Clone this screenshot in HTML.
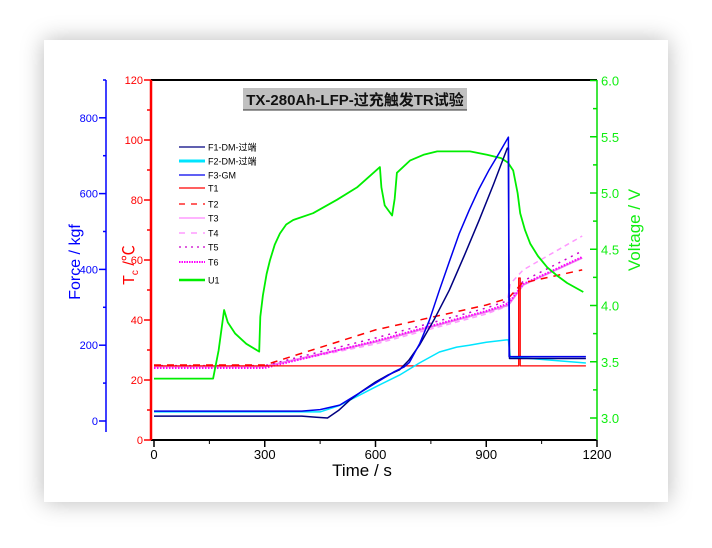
<!DOCTYPE html>
<html><head><meta charset="utf-8"><style>
body{margin:0;background:#fff;width:712px;height:548px;overflow:hidden}
#card{position:absolute;left:44px;top:40px;width:624px;height:462px;background:#fff;box-shadow:0 0 22px rgba(0,0,0,.28)}
svg{position:absolute;left:0;top:0}
text{font-family:"Liberation Sans","Noto Sans CJK SC",sans-serif}
</style></head><body>
<div id="card"></div>
<svg id="chart" width="712" height="548"></svg>
<script>
const tF1=[0,400,440,470,500,530,565,600,635,665,690,719,760,800,840,881,920,957,960,963,1170];
const vF1=[13,13,10,8,28,55,80,103,122,135,160,200,270,345,435,530,625,720,720,165,165];
const tF2=[0,450,500,550,600,665,719,773,820,854,900,955,960,965,1170];
const vF2=[24,24,40,65,90,121,153,182,195,200,208,214,214,169,153];
const tF3=[0,400,450,503,550,600,651,678,692,720,746,773,800,827,854,880,908,935,960,962,1170];
const vF3=[26,26,30,42,70,100,130,143,155,205,266,345,420,495,557,612,663,707,749,170,170];
const tT1=[0,988,988,992,992,1170];
const vT1=[24.7,24.7,54,54,24.7,24.7];
const tT2=[0,300,600,900,960,997,1160];
const vT2=[25,25,36.7,45,47.3,52.3,56.7];
const tT3=[0,300,600,900,960,1000,1160];
const vT3=[24.5,24.5,32.7,42.7,45,51.7,60.7];
const tT4=[0,300,600,900,955,965,1000,1160];
const vT4=[24.5,24.5,32,42,44.5,52,56.7,68];
const tT5=[0,300,600,900,960,1000,1160];
const vT5=[24.8,24.8,34,44,46.5,53,63];
const tT6=[0,300,600,900,960,1000,1160];
const vT6=[24,24,33,43,45.5,52,61];
const tU1=[0,160,175,190,200,220,250,285,288,295,305,314,327,341,358,377,431,496,550,612,616,625,645,652,658,694,730,767,856,902,940,959,973,985,992,1005,1019,1040,1065,1090,1119,1163];
const vU1=[3.35,3.35,3.6,3.96,3.85,3.75,3.66,3.59,3.9,4.09,4.28,4.4,4.54,4.64,4.72,4.76,4.82,4.94,5.05,5.23,5.05,4.89,4.8,4.95,5.18,5.29,5.34,5.37,5.37,5.34,5.31,5.27,5.2,5.0,4.82,4.67,4.55,4.44,4.34,4.27,4.2,4.12];
const tempTicks=[0,20,40,60,80,100,120];
const forceTicks=[0,200,400,600,800];
const voltTicks=["3.0","3.5","4.0","4.5","5.0","5.5","6.0"];
const timeTicks=[0,300,600,900,1200];

const X=t=>154+t*(597-154)/1200;
const YT=v=>440-v*3;
const YF=v=>421-v*0.379;
const YV=v=>418-(v-3)*112.5;
const svg=document.getElementById('chart');
const NS='http://www.w3.org/2000/svg';
function mk(tag,at,txt){const e=document.createElementNS(NS,tag);for(const k in at)e.setAttribute(k,at[k]);if(txt!==undefined)e.textContent=txt;svg.appendChild(e);return e;}
function series(ts,vs,ys,color,w,dash,name){
 const pts=ts.map((t,i)=>X(t).toFixed(1)+','+ys(vs[i]).toFixed(1)).join(' ');
 const e=mk('polyline',{points:pts,fill:'none',stroke:color,'stroke-width':w,'stroke-dasharray':dash||'none','stroke-linejoin':'round'});
 
 
}
mk('line',{x1:151,y1:80,x2:597,y2:80,stroke:'#000','stroke-width':2});
mk('line',{x1:151,y1:440,x2:597,y2:440,stroke:'#000','stroke-width':2});
timeTicks.forEach(t=>{
 mk('line',{x1:X(t),y1:440,x2:X(t),y2:447,stroke:'#000','stroke-width':1.5});
 const e=mk('text',{x:X(t),y:459,'font-size':13,'text-anchor':'middle',fill:'#000'},t);
 
 
});
[150,450,750,1050].forEach(t=>mk('line',{x1:X(t),y1:440,x2:X(t),y2:444,stroke:'#000'}));
let e=mk('text',{x:362,y:476,'font-size':17,'text-anchor':'middle'},'Time / s');
mk('line',{x1:151,y1:80,x2:151,y2:440,stroke:'#f00','stroke-width':2.5});
tempTicks.forEach(v=>{mk('line',{x1:144,y1:YT(v),x2:151,y2:YT(v),stroke:'#f00','stroke-width':1.5});
 const t=mk('text',{x:143,y:YT(v)+4,'font-size':11,'text-anchor':'end',fill:'#f00'},v);});
[10,30,50,70,90,110].forEach(v=>mk('line',{x1:147,y1:YT(v),x2:151,y2:YT(v),stroke:'#f00','stroke-width':1.5}));
e=mk('text',{transform:'translate(134,265) rotate(-90)','font-size':16,'text-anchor':'middle',fill:'#f00'});
e.innerHTML='T<tspan font-size="10" dy="4">c</tspan><tspan dy="-4"> /℃</tspan>';
mk('line',{x1:106,y1:80,x2:106,y2:432,stroke:'#00f','stroke-width':1.5});
mk('line',{x1:103,y1:80,x2:106,y2:80,stroke:'#00f','stroke-width':1.5});
forceTicks.forEach(v=>{mk('line',{x1:99,y1:YF(v),x2:106,y2:YF(v),stroke:'#00f','stroke-width':1.5});
 const t=mk('text',{x:98,y:YF(v)+4,'font-size':11,'text-anchor':'end',fill:'#00f'},v);});
[100,300,500,700].forEach(v=>mk('line',{x1:103,y1:YF(v),x2:106,y2:YF(v),stroke:'#00f','stroke-width':1.5}));
e=mk('text',{transform:'translate(80,262) rotate(-90)','font-size':16,'text-anchor':'middle',fill:'#00f'},'Force / kgf');
mk('line',{x1:597,y1:80,x2:597,y2:440,stroke:'#0d0','stroke-width':1.5});
voltTicks.forEach(v=>{const y=YV(+v);mk('line',{x1:590,y1:y,x2:597,y2:y,stroke:'#0d0','stroke-width':1.5});
 const t=mk('text',{x:601,y:y+5,'font-size':13,fill:'#1e1'},v);});
[3.25,3.75,4.25,4.75,5.25,5.75].forEach(v=>mk('line',{x1:593,y1:YV(v),x2:597,y2:YV(v),stroke:'#0d0','stroke-width':1.5}));
e=mk('text',{transform:'translate(640,230) rotate(-90)','font-size':17,'text-anchor':'middle',fill:'#1e1'},'Voltage / V');
e=mk('rect',{x:243,y:88,width:224,height:22,fill:'#c0c0c0'});
mk('line',{x1:243,y1:110,x2:467,y2:110,stroke:'#333','stroke-width':1});
e=mk('text',{x:355,y:105,'font-size':15,'font-weight':'bold','text-anchor':'middle',fill:'#111'},'TX-280Ah-LFP-过充触发TR试验');
series(tT4,vT4,YT,'#ff99ff',1.5,'5,4','series-t4');
series(tT3,vT3,YT,'#ee82ee',2,null,'series-t3');
series(tT5,vT5,YT,'#cc00cc',1.5,'2,5','series-t5');
series(tT6,vT6,YT,'#ff00ff',2,'1.5,1.5','series-t6');
series(tT2,vT2,YT,'#f00',1.5,'7,6','series-t2');
series(tT1,vT1,YT,'#f00',1.3,null,'series-t1');
series(tU1,vU1,YV,'#00ee00',1.8,null,'series-u1');
series(tF2,vF2,YF,'#00e5ff',1.5,null,'series-f2');
series(tF1,vF1,YF,'#000080',1.5,null,'series-f1');
series(tF3,vF3,YF,'#0000ee',1.5,null,'series-f3');
const leg=[['F1-DM-过端','#000080',1.3,null],['F2-DM-过端','#00e5ff',3,null],['F3-GM','#0000ee',1.3,null],['T1','#f00',1.3,null],['T2','#f00',1.3,'6,6'],['T3','#ff88ff',1.3,null],['T4','#ff88ff',1.3,'6,6'],['T5','#cc00cc',1.3,'2,4'],['T6','#ff00ff',2,'1.5,1']
,['U1','#00ee00',2.5,null]];
const legY=[147,161,175,188,204,218,233,247,262,280];
leg.forEach((l,i)=>{mk('line',{x1:179,y1:legY[i],x2:205,y2:legY[i],stroke:l[1],'stroke-width':l[2],'stroke-dasharray':l[3]||'none'});
 const t=mk('text',{x:208,y:legY[i]+3.5,'font-size':9,fill:'#000'},l[0]);});
</script>
</body></html>
